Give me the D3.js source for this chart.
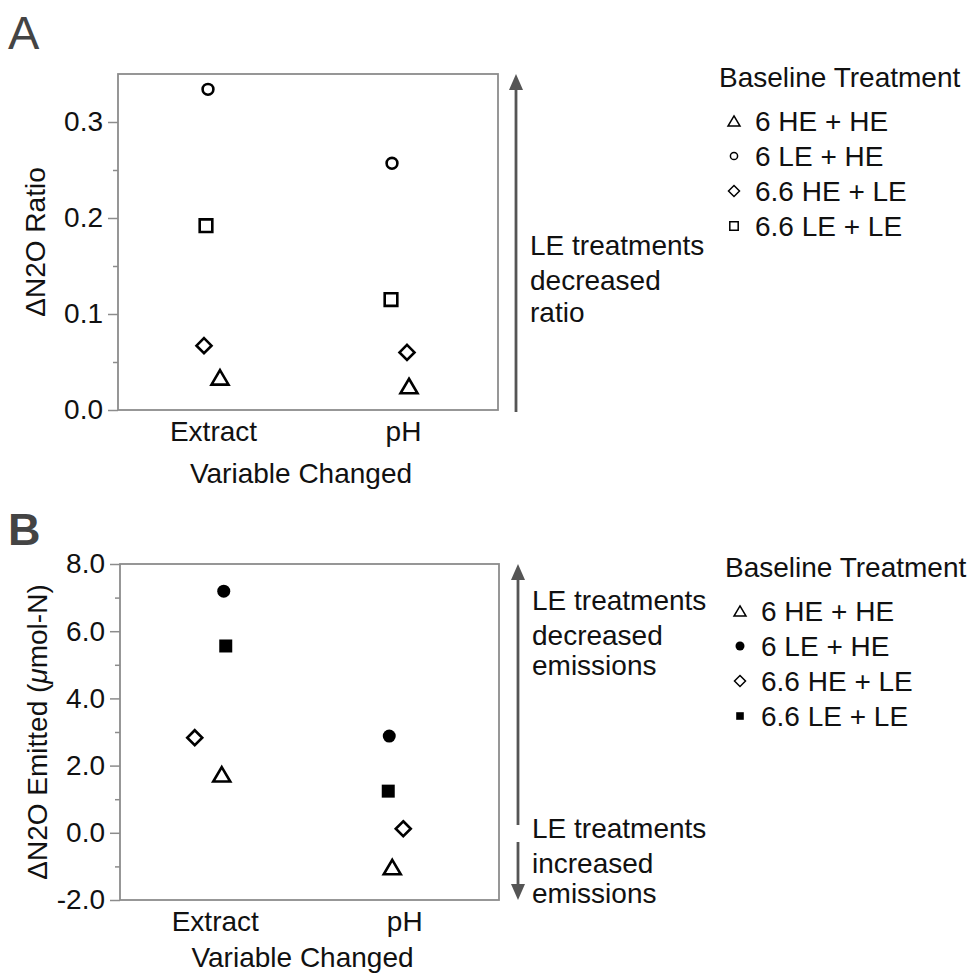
<!DOCTYPE html>
<html lang="en">
<head>
<meta charset="UTF-8">
<title>N2O change by variable</title>
<script src="https://d3js.org/d3.v7.min.js"></script>
<style>
  body { margin: 0; background: #fff; }
  svg { display: block; font-family: 'Liberation Sans', Arial, Helvetica, sans-serif; }
  .tick text { font-size: 28px; fill: #111; }
</style>
</head>
<body>
<svg id="chart" width="972" height="975"></svg>
<script>
// data
const categories = ["Extract", "pH"];
const treatments = ["6 HE + HE", "6 LE + HE", "6.6 HE + LE", "6.6 LE + LE"];
// order follows treatments
const ratioExtract = [0.034, 0.334, 0.067, 0.192];
const ratioPH = [0.025, 0.257, 0.060, 0.115];
const emittedExtract = [1.74, 7.19, 2.83, 5.56];
const emittedPH = [-1.02, 2.88, 0.12, 1.24];
const ratioTicks = [0, 0.1, 0.2, 0.3];
const ratioMinor = [0.05, 0.15, 0.25];
const emittedTicks = [-2, 0, 2, 4, 6, 8];
const emittedMinor = [-1, 1, 3, 5, 7];

// small horizontal offsets so markers don't overlap (px)
const jitterA = { Extract: [7, -5, -9, -7], pH: [6, -11, 4, -12] };
const jitterB = { Extract: [7, 9, -20, 11], pH: [-12, -15, -1, -16] };

const FS = 28;
const svg = d3.select("#chart");

// marker shapes, size = half extent
const tri = { draw(c, s) { c.moveTo(0, -s * 0.85); c.lineTo(s, s * 0.85); c.lineTo(-s, s * 0.85); c.closePath(); } };
const circ = { draw(c, s) { c.moveTo(s, 0); c.arc(0, 0, s, 0, 2 * Math.PI); } };
const dia = { draw(c, s) { c.moveTo(0, -s); c.lineTo(s, 0); c.lineTo(0, s); c.lineTo(-s, 0); c.closePath(); } };
const sq = { draw(c, s) { c.rect(-s, -s, 2 * s, 2 * s); } };
const shapes = [tri, circ, dia, sq];

// plain hyphen for negatives, like the original
const fmt1 = v => d3.format(".1f")(v).replace("\u2212", "-");

function panel(o) {
  const g = svg.append("g");
  const x = d3.scalePoint().domain(categories).range([o.left, o.right]).padding(0.5);
  const y = d3.scaleLinear().domain(o.domain).range([o.bottom, o.top]);

  // minor + major ticks
  g.append("g").attr("transform", `translate(${o.left},0)`)
    .call(d3.axisLeft(y).tickValues(o.minor).tickSize(5).tickFormat(""))
    .call(a => a.select(".domain").remove())
    .selectAll("line").attr("stroke", "#8c8c8c").attr("stroke-width", 1.5);
  g.append("g").attr("transform", `translate(${o.left},0)`)
    .call(d3.axisLeft(y).tickValues(o.ticks).tickSize(10).tickPadding(5).tickFormat(fmt1))
    .call(a => a.select(".domain").remove())
    .call(a => a.selectAll("line").attr("stroke", "#8c8c8c").attr("stroke-width", 1.5));

  g.append("g").attr("transform", `translate(0,${o.bottom})`)
    .call(d3.axisBottom(x).tickSize(0).tickPadding(11))
    .call(a => a.select(".domain").remove());

  g.append("rect")
    .attr("x", o.left).attr("y", o.top)
    .attr("width", o.right - o.left).attr("height", o.bottom - o.top)
    .attr("fill", "none").attr("stroke", "#8c8c8c").attr("stroke-width", 1.8);

  // axis titles
  g.append("text")
    .attr("x", (o.left + o.right) / 2 - 7).attr("y", o.xTitleY)
    .attr("text-anchor", "middle").attr("font-size", FS).attr("fill", "#111")
    .text("Variable Changed");
  const yt = g.append("text")
    .attr("transform", `translate(${o.yTitleX},${(o.top + o.bottom) / 2}) rotate(-90)`)
    .attr("text-anchor", "middle").attr("font-size", FS).attr("fill", "#111");
  o.yTitle(yt);

  // panel letter
  g.append("text").attr("x", 8).attr("y", o.letterY)
    .attr("font-size", o.letterSize).attr("font-weight", o.letterWeight).attr("fill", "#444")
    .text(o.letter);

  // points
  const pts = [];
  categories.forEach((c, ci) => {
    o.values[ci].forEach((v, ti) => pts.push({ c, ti, v, dx: o.jitter[c][ti] }));
  });
  g.selectAll("path.pt").data(pts).enter().append("path")
    .attr("class", "pt")
    .attr("transform", d => `translate(${x(d.c) + d.dx},${y(d.v)})`)
    .attr("d", d => d3.symbol().type(shapes[d.ti]).size(o.markSize[d.ti])())
    .attr("fill", d => o.filled[d.ti] ? "#000" : "none")
    .attr("stroke", "#000")
    .attr("stroke-width", d => o.filled[d.ti] ? 0 : 2.6);

  // arrows
  const ax = o.arrowX;
  o.arrows.forEach(a => {
    const y0 = a.from, y1 = a.to, dir = Math.sign(y1 - y0);
    g.append("line").attr("x1", ax).attr("x2", ax).attr("y1", y0).attr("y2", y1 - dir * 12)
      .attr("stroke", "#555").attr("stroke-width", 2.8);
    g.append("path")
      .attr("d", `M${ax},${y1}L${ax - 7},${y1 - dir * 16}L${ax + 7},${y1 - dir * 16}Z`)
      .attr("fill", "#555");
  });

  // annotation text
  o.notes.forEach(n => {
    g.append("text").attr("x", ax + 14).attr("y", n.y)
      .attr("font-size", FS).attr("fill", "#111").text(n.t);
  });

  // legend
  const lg = g.append("g");
  lg.append("text").attr("x", o.legX).attr("y", o.legY)
    .attr("font-size", FS).attr("fill", "#111").text("Baseline Treatment");
  treatments.forEach((t, i) => {
    const by = o.legY + 44 + i * 35;
    lg.append("path")
      .attr("transform", `translate(${o.legX + 15},${by - 10})`)
      .attr("d", d3.symbol().type(shapes[i]).size(o.legSize[i])())
      .attr("fill", o.filled[i] ? "#000" : "none")
      .attr("stroke", "#000")
      .attr("stroke-width", o.filled[i] ? 0 : 1.5);
    lg.append("text").attr("x", o.legX + 36).attr("y", by)
      .attr("font-size", FS).attr("fill", "#111").text(t);
  });
}

// Panel A: ratio
panel({
  left: 118, right: 498, top: 74, bottom: 410,
  domain: [0, 0.35], ticks: ratioTicks, minor: ratioMinor,
  values: [ratioExtract, ratioPH], jitter: jitterA,
  filled: [false, false, false, false],
  markSize: [8.5, 5.4, 7.5, 6.3], legSize: [6, 3.6, 5.5, 4.2],
  xTitleY: 483, yTitleX: 45,
  yTitle: t => t.text("ΔN2O Ratio"),
  letter: "A", letterY: 49, letterSize: 47, letterWeight: 400,
  arrowX: 516,
  arrows: [{ from: 412, to: 74 }],
  notes: [{ y: 255, t: "LE treatments" }, { y: 290, t: "decreased" }, { y: 322, t: "ratio" }],
  legX: 719, legY: 87
});

// Panel B: emitted
panel({
  left: 120, right: 499, top: 564, bottom: 900,
  domain: [-2, 8], ticks: emittedTicks, minor: emittedMinor,
  values: [emittedExtract, emittedPH], jitter: jitterB,
  filled: [false, true, false, true],
  markSize: [8.5, 6.5, 7.5, 6.5], legSize: [6, 4.5, 5.5, 3.8],
  xTitleY: 967, yTitleX: 47,
  yTitle: t => {
    t.append("tspan").text("ΔN2O Emitted (");
    t.append("tspan").attr("font-style", "italic").text("μ");
    t.append("tspan").text("mol-N)");
  },
  letter: "B", letterY: 545, letterSize: 45, letterWeight: 700,
  arrowX: 518,
  arrows: [{ from: 825, to: 564 }, { from: 842, to: 900 }],
  notes: [{ y: 610, t: "LE treatments" }, { y: 645, t: "decreased" }, { y: 675, t: "emissions" },
          { y: 838, t: "LE treatments" }, { y: 873, t: "increased" }, { y: 903, t: "emissions" }],
  legX: 725, legY: 577
});
</script>
</body>
</html>
